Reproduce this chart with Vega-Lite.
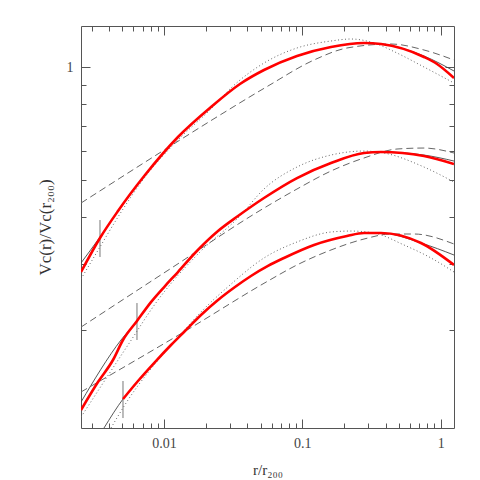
{
  "$schema": "https://vega.github.io/schema/vega-lite/v6.json",
  "width": 373,
  "height": 402,
  "autosize": {"type": "none"},
  "padding": {"left": 81, "top": 26, "right": 26, "bottom": 52},
  "config": {
    "view": {"stroke": "#555", "strokeWidth": 1},
    "axis": {
      "grid": false, "domain": false, "tickColor": "#555", "tickWidth": 1,
      "labelFont": "Liberation Serif", "labelFontSize": 14, "labelColor": "#444",
      "titleFont": "Liberation Serif", "titleFontSize": 15, "titleColor": "#333", "titleFontWeight": "normal",
      "labelOverlap": false, "labelFlush": false, "labelBound": false
    }
  },
  "datasets": {
    "curves": [
      {"g":1,"k":"data","r":0.002513,"v":0.2853},{"g":1,"k":"data","r":0.003447,"v":0.3514},{"g":1,"k":"data","r":0.004651,"v":0.4146},{"g":1,"k":"data","r":0.007291,"v":0.5168},{"g":1,"k":"data","r":0.01262,"v":0.6524},{"g":1,"k":"data","r":0.02186,"v":0.7840},{"g":1,"k":"data","r":0.03541,"v":0.9028},{"g":1,"k":"data","r":0.05282,"v":0.9835},{"g":1,"k":"data","r":0.09148,"v":1.0717},{"g":1,"k":"data","r":0.1611,"v":1.1323},{"g":1,"k":"data","r":0.2790,"v":1.1608},{"g":1,"k":"data","r":0.3703,"v":1.1535},{"g":1,"k":"data","r":0.7573,"v":1.0652},{"g":1,"k":"data","r":0.9404,"v":1.0204},{"g":1,"k":"data","r":1.2478,"v":0.9365},
      {"g":1,"k":"fit","r":0.002513,"v":0.3015},{"g":1,"k":"fit","r":0.003447,"v":0.3535},{"g":1,"k":"fit","r":0.004651,"v":0.4146},{"g":1,"k":"fit","r":0.007291,"v":0.5168},{"g":1,"k":"fit","r":0.01262,"v":0.6524},{"g":1,"k":"fit","r":0.02186,"v":0.7840},{"g":1,"k":"fit","r":0.03541,"v":0.9028},{"g":1,"k":"fit","r":0.05282,"v":0.9835},{"g":1,"k":"fit","r":0.09148,"v":1.0717},{"g":1,"k":"fit","r":0.1611,"v":1.1323},{"g":1,"k":"fit","r":0.2790,"v":1.1608},{"g":1,"k":"fit","r":0.3703,"v":1.1535},{"g":1,"k":"fit","r":0.7573,"v":1.0717},{"g":1,"k":"fit","r":1.2478,"v":0.9776},
      {"g":1,"k":"dot","r":0.002513,"v":0.2733},{"g":1,"k":"dot","r":0.003447,"v":0.3326},{"g":1,"k":"dot","r":0.004651,"v":0.3996},{"g":1,"k":"dot","r":0.007291,"v":0.5105},{"g":1,"k":"dot","r":0.01262,"v":0.6406},{"g":1,"k":"dot","r":0.02186,"v":0.7745},{"g":1,"k":"dot","r":0.03049,"v":0.8809},{"g":1,"k":"dot","r":0.05282,"v":1.0266},{"g":1,"k":"dot","r":0.09148,"v":1.1256},{"g":1,"k":"dot","r":0.1611,"v":1.1749},{"g":1,"k":"dot","r":0.2247,"v":1.1893},{"g":1,"k":"dot","r":0.3295,"v":1.1608},{"g":1,"k":"dot","r":0.4832,"v":1.0916},{"g":1,"k":"dot","r":0.7573,"v":1.0018},{"g":1,"k":"dot","r":1.2478,"v":0.9082},
      {"g":1,"k":"dash","r":0.002513,"v":0.4353},{"g":1,"k":"dash","r":0.009513,"v":0.5951},{"g":1,"k":"dash","r":0.02540,"v":0.7465},{"g":1,"k":"dash","r":0.05646,"v":0.8917},{"g":1,"k":"dash","r":0.1214,"v":1.0457},{"g":1,"k":"dash","r":0.2103,"v":1.1256},{"g":1,"k":"dash","r":0.4373,"v":1.1535},{"g":1,"k":"dash","r":0.7573,"v":1.1118},{"g":1,"k":"dash","r":1.2478,"v":1.0457},
      {"g":2,"k":"data","r":0.002513,"v":0.1225},{"g":2,"k":"data","r":0.003333,"v":0.1454},{"g":2,"k":"data","r":0.004279,"v":0.1664},{"g":2,"k":"data","r":0.005055,"v":0.1881},{"g":2,"k":"data","r":0.006380,"v":0.2114},{"g":2,"k":"data","r":0.008054,"v":0.2373},{"g":2,"k":"data","r":0.01017,"v":0.2618},{"g":2,"k":"data","r":0.01262,"v":0.2853},{"g":2,"k":"data","r":0.01675,"v":0.3205},{"g":2,"k":"data","r":0.02457,"v":0.3667},{"g":2,"k":"data","r":0.03426,"v":0.4020},{"g":2,"k":"data","r":0.05282,"v":0.4490},{"g":2,"k":"data","r":0.09148,"v":0.5074},{"g":2,"k":"data","r":0.1611,"v":0.5562},{"g":2,"k":"data","r":0.2790,"v":0.5915},{"g":2,"k":"data","r":0.3703,"v":0.5951},{"g":2,"k":"data","r":0.7573,"v":0.5807},{"g":2,"k":"data","r":1.2478,"v":0.5529},
      {"g":2,"k":"fit","r":0.002513,"v":0.1286},{"g":2,"k":"fit","r":0.004889,"v":0.1881},{"g":2,"k":"fit","r":0.006380,"v":0.2114},{"g":2,"k":"fit","r":0.008054,"v":0.2373},{"g":2,"k":"fit","r":0.01017,"v":0.2618},{"g":2,"k":"fit","r":0.01262,"v":0.2853},{"g":2,"k":"fit","r":0.01675,"v":0.3205},{"g":2,"k":"fit","r":0.02457,"v":0.3667},{"g":2,"k":"fit","r":0.03426,"v":0.4020},{"g":2,"k":"fit","r":0.05282,"v":0.4490},{"g":2,"k":"fit","r":0.09148,"v":0.5074},{"g":2,"k":"fit","r":0.1611,"v":0.5562},{"g":2,"k":"fit","r":0.2790,"v":0.5915},{"g":2,"k":"fit","r":0.3703,"v":0.5951},{"g":2,"k":"fit","r":0.7573,"v":0.5842},{"g":2,"k":"fit","r":1.2478,"v":0.5631},
      {"g":2,"k":"dot","r":0.002513,"v":0.1173},{"g":2,"k":"dot","r":0.005493,"v":0.1824},{"g":2,"k":"dot","r":0.009049,"v":0.2403},{"g":2,"k":"dot","r":0.01820,"v":0.3225},{"g":2,"k":"dot","r":0.03541,"v":0.4020},{"g":2,"k":"dot","r":0.05282,"v":0.4744},{"g":2,"k":"dot","r":0.09148,"v":0.5428},{"g":2,"k":"dot","r":0.1611,"v":0.5842},{"g":2,"k":"dot","r":0.2790,"v":0.5987},{"g":2,"k":"dot","r":0.3892,"v":0.5915},{"g":2,"k":"dot","r":0.7573,"v":0.5428},{"g":2,"k":"dot","r":1.2478,"v":0.4951},
      {"g":2,"k":"dash","r":0.002513,"v":0.2036},{"g":2,"k":"dash","r":0.01105,"v":0.2906},{"g":2,"k":"dash","r":0.05282,"v":0.4221},{"g":2,"k":"dash","r":0.09148,"v":0.4744},{"g":2,"k":"dash","r":0.1611,"v":0.5297},{"g":2,"k":"dash","r":0.2790,"v":0.5737},{"g":2,"k":"dash","r":0.4832,"v":0.6061},{"g":2,"k":"dash","r":0.7573,"v":0.6098},{"g":2,"k":"dash","r":1.2478,"v":0.5915},
      {"g":3,"k":"data","r":0.005055,"v":0.1310},{"g":3,"k":"data","r":0.006488,"v":0.1463},{"g":3,"k":"data","r":0.008606,"v":0.1643},{"g":3,"k":"data","r":0.01124,"v":0.1824},{"g":3,"k":"data","r":0.01418,"v":0.1988},{"g":3,"k":"data","r":0.01851,"v":0.2193},{"g":3,"k":"data","r":0.02457,"v":0.2403},{"g":3,"k":"data","r":0.03259,"v":0.2602},{"g":3,"k":"data","r":0.04253,"v":0.2784},{"g":3,"k":"data","r":0.05646,"v":0.2961},{"g":3,"k":"data","r":0.07367,"v":0.3109},{"g":3,"k":"data","r":0.1214,"v":0.3367},{"g":3,"k":"data","r":0.2103,"v":0.3557},{"g":3,"k":"data","r":0.2790,"v":0.3623},{"g":3,"k":"data","r":0.3703,"v":0.3623},{"g":3,"k":"data","r":0.7205,"v":0.3408},{"g":3,"k":"data","r":1.2478,"v":0.2979},
      {"g":3,"k":"fit","r":0.003684,"v":0.1097},{"g":3,"k":"fit","r":0.005055,"v":0.1310},{"g":3,"k":"fit","r":0.006488,"v":0.1463},{"g":3,"k":"fit","r":0.008606,"v":0.1643},{"g":3,"k":"fit","r":0.01124,"v":0.1824},{"g":3,"k":"fit","r":0.01418,"v":0.1988},{"g":3,"k":"fit","r":0.01851,"v":0.2193},{"g":3,"k":"fit","r":0.02457,"v":0.2403},{"g":3,"k":"fit","r":0.03259,"v":0.2602},{"g":3,"k":"fit","r":0.04253,"v":0.2784},{"g":3,"k":"fit","r":0.05646,"v":0.2961},{"g":3,"k":"fit","r":0.07367,"v":0.3109},{"g":3,"k":"fit","r":0.1214,"v":0.3367},{"g":3,"k":"fit","r":0.2103,"v":0.3557},{"g":3,"k":"fit","r":0.2790,"v":0.3623},{"g":3,"k":"fit","r":0.3703,"v":0.3623},{"g":3,"k":"fit","r":0.7205,"v":0.3408},{"g":3,"k":"fit","r":1.2478,"v":0.3166},
      {"g":3,"k":"dot","r":0.004139,"v":0.1097},{"g":3,"k":"dot","r":0.005493,"v":0.1302},{"g":3,"k":"dot","r":0.007920,"v":0.1565},{"g":3,"k":"dot","r":0.01201,"v":0.1869},{"g":3,"k":"dot","r":0.01820,"v":0.2219},{"g":3,"k":"dot","r":0.02999,"v":0.2634},{"g":3,"k":"dot","r":0.05282,"v":0.3109},{"g":3,"k":"dot","r":0.09148,"v":0.3429},{"g":3,"k":"dot","r":0.1611,"v":0.3645},{"g":3,"k":"dot","r":0.2247,"v":0.3667},{"g":3,"k":"dot","r":0.3295,"v":0.3623},{"g":3,"k":"dot","r":0.5428,"v":0.3367},{"g":3,"k":"dot","r":0.8509,"v":0.3109},{"g":3,"k":"dot","r":1.2478,"v":0.2853},
      {"g":3,"k":"dash","r":0.002513,"v":0.1368},{"g":3,"k":"dash","r":0.01466,"v":0.1999},{"g":3,"k":"dash","r":0.05646,"v":0.2700},{"g":3,"k":"dash","r":0.09148,"v":0.2979},{"g":3,"k":"dash","r":0.1611,"v":0.3265},{"g":3,"k":"dash","r":0.2790,"v":0.3492},{"g":3,"k":"dash","r":0.4373,"v":0.3601},{"g":3,"k":"dash","r":0.6412,"v":0.3601},{"g":3,"k":"dash","r":1.2478,"v":0.3387}
    ],
    "markers": [
      {"g":1,"r":0.003447,"v":0.3923,"v2":0.3128},
      {"g":2,"r":0.006380,"v":0.2359,"v2":0.1881},
      {"g":3,"r":0.005055,"v":0.1463,"v2":0.1166}
    ]
  },
  "layer": [
    {
      "encoding": {
        "x": {
          "field": "r", "type": "quantitative",
          "scale": {"type": "log", "domain": [0.002513, 1.2478], "nice": false, "zero": false},
          "axis": {
            "orient": "bottom", "title": "r/r₂₀₀", "titlePadding": 8,
            "values": [0.003,0.004,0.005,0.006,0.007,0.008,0.009,0.01,0.02,0.03,0.04,0.05,0.06,0.07,0.08,0.09,0.1,0.2,0.3,0.4,0.5,0.6,0.7,0.8,0.9,1],
            "format": "~g",
            "labelExpr": "(datum.value == 0.01 || datum.value == 0.1 || datum.value == 1) ? datum.label : ''",
            "tickSize": {"condition": {"test": "datum.value == 0.01 || datum.value == 0.1 || datum.value == 1", "value": -9}, "value": -5},
            "labelPadding": 17
          }
        },
        "y": {
          "field": "v", "type": "quantitative",
          "scale": {"type": "log", "domain": [0.1097, 1.288], "nice": false, "zero": false},
          "axis": {
            "orient": "left", "title": "Vc(r)/Vc(r₂₀₀)", "titlePadding": 12, "titleFontSize": 17,
            "values": [0.2,0.3,0.4,0.5,0.6,0.7,0.8,0.9,1],
            "format": "~g",
            "labelExpr": "datum.value == 1 ? datum.label : ''",
            "tickSize": {"condition": {"test": "datum.value == 1", "value": -9}, "value": -5},
            "labelPadding": 17
          }
        }
      },
      "layer": [
        {
          "data": {"name": "curves"},
          "transform": [{"filter": "datum.k == 'dash'"}],
          "mark": {"type": "line", "clip": true, "color": "#666", "strokeWidth": 1, "strokeDash": [7, 4], "interpolate": "monotone"},
          "encoding": {"detail": {"field": "g"}}
        },
        {
          "data": {"name": "curves"},
          "transform": [{"filter": "datum.k == 'dot'"}],
          "mark": {"type": "line", "clip": true, "color": "#666", "strokeWidth": 1, "strokeDash": [1, 2.5], "interpolate": "monotone"},
          "encoding": {"detail": {"field": "g"}}
        },
        {
          "data": {"name": "curves"},
          "transform": [{"filter": "datum.k == 'fit'"}],
          "mark": {"type": "line", "clip": true, "color": "#444", "strokeWidth": 0.9, "interpolate": "monotone"},
          "encoding": {"detail": {"field": "g"}}
        },
        {
          "data": {"name": "markers"},
          "mark": {"type": "rule", "clip": true, "color": "#777", "strokeWidth": 1},
          "encoding": {"y2": {"field": "v2"}}
        },
        {
          "data": {"name": "curves"},
          "transform": [{"filter": "datum.k == 'data'"}],
          "mark": {"type": "line", "clip": true, "color": "#ff0000", "strokeWidth": 2.6, "interpolate": "monotone"},
          "encoding": {"detail": {"field": "g"}}
        }
      ]
    },
    {
      "data": {"name": "markers"},
      "mark": {"type": "rule", "opacity": 0},
      "encoding": {
        "x": {
          "field": "r", "type": "quantitative",
          "scale": {"type": "log", "domain": [0.002513, 1.2478], "nice": false, "zero": false},
          "axis": {
            "orient": "top", "title": null, "labels": false,
            "values": [0.003,0.004,0.005,0.006,0.007,0.008,0.009,0.01,0.02,0.03,0.04,0.05,0.06,0.07,0.08,0.09,0.1,0.2,0.3,0.4,0.5,0.6,0.7,0.8,0.9,1],
            "tickSize": {"condition": {"test": "datum.value == 0.01 || datum.value == 0.1 || datum.value == 1", "value": -9}, "value": -5}
          }
        },
        "y": {
          "field": "v", "type": "quantitative",
          "scale": {"type": "log", "domain": [0.1097, 1.288], "nice": false, "zero": false},
          "axis": {
            "orient": "right", "title": null, "labels": false,
            "values": [0.2,0.3,0.4,0.5,0.6,0.7,0.8,0.9,1],
            "tickSize": {"condition": {"test": "datum.value == 1", "value": -9}, "value": -5}
          }
        },
        "y2": {"field": "v2"}
      }
    }
  ],
  "resolve": {"axis": {"x": "independent", "y": "independent"}}
}
